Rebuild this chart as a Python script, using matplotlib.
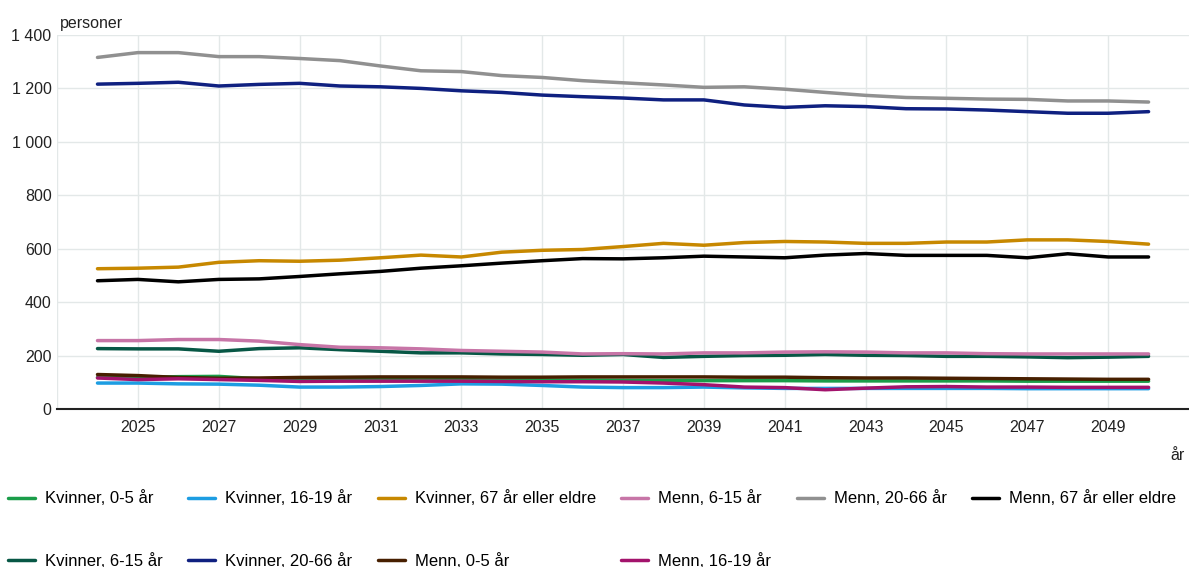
import matplotlib
matplotlib.use('Agg')
import matplotlib.pyplot as plt
from matplotlib.ticker import FuncFormatter

plt.rcParams['font.family'] = ['Liberation Sans', 'DejaVu Sans']

years = list(range(2024, 2051))

kvinner_0_5 = [118, 118, 121, 122, 113, 110, 110, 110, 109, 110, 108, 108, 108, 107,
               106, 106, 106, 106, 105, 105, 105, 105, 105, 104, 104, 104, 104]
kvinner_6_15 = [226, 225, 225, 216, 226, 229, 222, 216, 210, 210, 206, 204, 201, 204,
                193, 197, 200, 201, 204, 201, 200, 197, 197, 195, 192, 194, 197]
kvinner_16_19 = [97, 97, 94, 93, 89, 82, 82, 84, 88, 94, 93, 88, 82, 80,
                 80, 82, 79, 77, 77, 77, 77, 77, 77, 76, 76, 76, 76]
kvinner_20_66 = [1216, 1219, 1223, 1209, 1215, 1219, 1209, 1206, 1200, 1191, 1185, 1175, 1169, 1164,
                 1157, 1157, 1138, 1129, 1135, 1132, 1124, 1123, 1119, 1113, 1107, 1107, 1113]
kvinner_67 = [525, 527, 531, 549, 555, 553, 557, 566, 576, 569, 587, 594, 597, 608,
              620, 613, 623, 627, 625, 620, 620, 625, 625, 633, 633, 627, 617]
menn_0_5 = [129, 125, 118, 115, 116, 118, 119, 120, 120, 120, 119, 119, 120, 120,
            120, 120, 119, 119, 117, 116, 116, 115, 114, 113, 112, 111, 111]
menn_6_15 = [256, 256, 260, 260, 254, 241, 231, 229, 225, 219, 216, 213, 206, 207,
             206, 210, 210, 213, 214, 213, 210, 210, 207, 206, 206, 206, 206]
menn_16_19 = [116, 110, 113, 110, 107, 103, 104, 104, 104, 104, 103, 102, 102, 101,
              97, 91, 82, 80, 72, 78, 83, 84, 82, 82, 81, 81, 81]
menn_20_66 = [1316, 1334, 1334, 1319, 1319, 1312, 1304, 1284, 1266, 1263, 1248, 1241, 1229, 1221,
              1213, 1204, 1206, 1197, 1185, 1174, 1166, 1163, 1160, 1159, 1153, 1153, 1149]
menn_67 = [480, 485, 476, 485, 487, 496, 506, 515, 527, 536, 546, 555, 563, 562,
           566, 572, 569, 566, 576, 582, 575, 575, 575, 566, 581, 569, 569]

series = [
    ("Kvinner, 0-5 år", kvinner_0_5, '#1a9d49'),
    ("Kvinner, 6-15 år", kvinner_6_15, '#075745'),
    ("Kvinner, 16-19 år", kvinner_16_19, '#1d9de2'),
    ("Kvinner, 20-66 år", kvinner_20_66, '#0f2080'),
    ("Kvinner, 67 år eller eldre", kvinner_67, '#c78800'),
    ("Menn, 0-5 år", menn_0_5, '#471f00'),
    ("Menn, 6-15 år", menn_6_15, '#c775a7'),
    ("Menn, 16-19 år", menn_16_19, '#a3136c'),
    ("Menn, 20-66 år", menn_20_66, '#909090'),
    ("Menn, 67 år eller eldre", menn_67, '#000000'),
]

fig = plt.figure(figsize=(11.89, 5.67), dpi=100)
ax = fig.add_axes([0.048, 0.2787, 0.952, 0.6596])

for label, values, color in series:
    ax.plot(years, values, color=color, lw=2.5, label=label, solid_capstyle='round')

ax.set_xlim(2023, 2051)
ax.set_ylim(0, 1400)
ax.set_xticks(range(2023, 2051, 2))
ax.set_xticklabels([''] + [str(y) for y in range(2025, 2051, 2)])
ax.set_yticks(range(0, 1401, 200))
ax.yaxis.set_major_formatter(FuncFormatter(lambda v, p: f"{int(v):,}".replace(',', ' ')))
ax.grid(True, color='#e3e8e8', lw=1)
ax.set_axisbelow(True)
for s in ['top', 'right', 'left']:
    ax.spines[s].set_visible(False)
ax.spines['bottom'].set_color('#222222')
ax.spines['bottom'].set_linewidth(1.5)
ax.tick_params(length=0, labelsize=11.5, colors='#222222')
ax.tick_params(axis='x', pad=8)
ax.tick_params(axis='y', pad=4)

fig.text(0.0505, 0.945, "personer", fontsize=11.5, color='#222222', ha='left', va='bottom')
fig.text(0.984, 0.197, "år", fontsize=11.5, color='#222222', ha='left', va='center')

fig.legend(loc='upper left', bbox_to_anchor=(0.0067, 0.135), ncol=6, frameon=False,
           fontsize=12, handlelength=1.6, handletextpad=0.6, columnspacing=1.55,
           labelspacing=2.8, borderpad=0, borderaxespad=0)

fig.savefig('out.png', dpi=100)
